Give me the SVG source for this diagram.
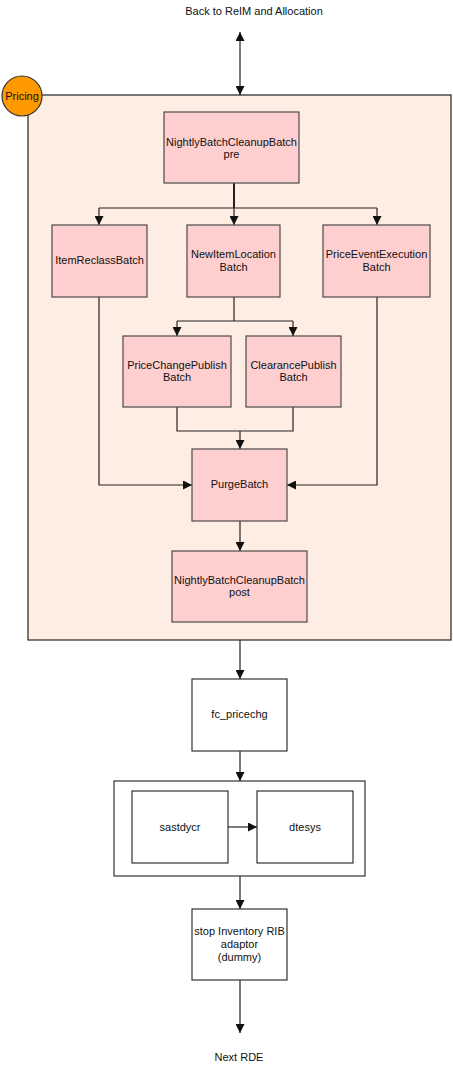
<svg xmlns="http://www.w3.org/2000/svg" width="453" height="1072" viewBox="0 0 453 1072">
<style>
text{font-family:"Liberation Sans",Arial,sans-serif;font-size:11px;fill:#111;text-anchor:middle}
.b{fill:#ffcfcf;stroke:#4a4a4a;stroke-width:1.2}
.w{fill:#fff;stroke:#333;stroke-width:1.2}
.c{fill:none;stroke:#222;stroke-width:1.2}
</style>
<defs>
<marker id="a" viewBox="0 0 10 10" refX="10" refY="5" markerWidth="9" markerHeight="9" markerUnits="userSpaceOnUse" orient="auto-start-reverse"><path d="M0,0L10,5L0,10z" fill="#111"/></marker>
</defs>
<text x="254" y="15">Back to ReIM and Allocation</text>
<g id="pricing">
<rect x="28" y="95" width="423" height="545" fill="#feede2" stroke="#222" stroke-width="1.2"/>
<circle cx="22" cy="96" r="20" fill="#ff9900" stroke="#333" stroke-width="1.2"/>
<text x="22" y="100">Pricing</text>
</g>
<g id="group"><rect class="w" x="114" y="781" width="251" height="95"/></g>
<g id="connectors">
<path class="c" d="M240,32V95" marker-start="url(#a)" marker-end="url(#a)"/>
<path class="c" d="M234,183V208" style="stroke-width:2"/>
<path class="c" d="M99,208H377"/>
<path class="c" d="M99,208V225" marker-end="url(#a)"/>
<path class="c" d="M234,208V225" marker-end="url(#a)"/>
<path class="c" d="M377,208V225" marker-end="url(#a)"/>
<path class="c" d="M234,297V321"/>
<path class="c" d="M177,321H293"/>
<path class="c" d="M177,321V336" marker-end="url(#a)"/>
<path class="c" d="M293,321V336" marker-end="url(#a)"/>
<path class="c" d="M177,407V431H293V407"/>
<path class="c" d="M240,431V449" marker-end="url(#a)"/>
<path class="c" d="M99,297V485H192" marker-end="url(#a)"/>
<path class="c" d="M377,297V485H287" marker-end="url(#a)"/>
<path class="c" d="M240,521V551" marker-end="url(#a)"/>
<path class="c" d="M240,640V679" marker-end="url(#a)"/>
<path class="c" d="M240,751V781" marker-end="url(#a)"/>
<path class="c" d="M228,827H257" marker-end="url(#a)"/>
<path class="c" d="M240,876V909" marker-end="url(#a)"/>
<path class="c" d="M240,980V1033" marker-end="url(#a)"/>
</g>
<g id="nbc-pre"><rect class="b" x="164" y="112" width="135" height="71"/><text x="231.5" y="146">NightlyBatchCleanupBatch</text><text x="231.5" y="158">pre</text></g>
<g id="itemreclass"><rect class="b" x="52" y="225" width="95" height="72"/><text x="99.5" y="264">ItemReclassBatch</text></g>
<g id="newitemloc"><rect class="b" x="187" y="225" width="93" height="72"/><text x="233.5" y="258">NewItemLocation</text><text x="233.5" y="271">Batch</text></g>
<g id="priceevent"><rect class="b" x="323" y="225" width="107" height="72"/><text x="376.5" y="258">PriceEventExecution</text><text x="376.5" y="271">Batch</text></g>
<g id="pricechange"><rect class="b" x="123" y="336" width="108" height="71"/><text x="177" y="369">PriceChangePublish</text><text x="177" y="381">Batch</text></g>
<g id="clearance"><rect class="b" x="246" y="336" width="95" height="71"/><text x="293.5" y="369">ClearancePublish</text><text x="293.5" y="381">Batch</text></g>
<g id="purge"><rect class="b" x="192" y="449" width="95" height="72"/><text x="239.5" y="488">PurgeBatch</text></g>
<g id="nbc-post"><rect class="b" x="172" y="551" width="135" height="71"/><text x="239.5" y="584">NightlyBatchCleanupBatch</text><text x="239.5" y="596">post</text></g>
<g id="fc"><rect class="w" x="192" y="679" width="95" height="72"/><text x="239.5" y="718">fc_pricechg</text></g>
<g id="sastdycr"><rect class="w" x="132" y="791" width="96" height="72"/><text x="180" y="831">sastdycr</text></g>
<g id="dtesys"><rect class="w" x="257" y="791" width="96" height="72"/><text x="305" y="831">dtesys</text></g>
<g id="stopinv"><rect class="w" x="192" y="909" width="95" height="71"/><text x="239.5" y="935">stop Inventory RIB</text><text x="239.5" y="948">adaptor</text><text x="239.5" y="961">(dummy)</text></g>
<text x="239" y="1061">Next RDE</text>
</svg>
